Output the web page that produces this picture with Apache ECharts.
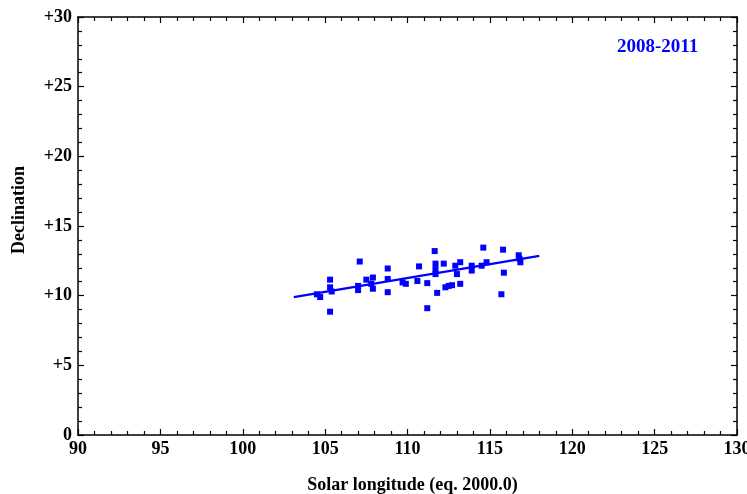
<!DOCTYPE html>
<html><head><meta charset="utf-8">
<script src="https://cdn.jsdelivr.net/npm/echarts@6/dist/echarts.min.js"></script>
<style>html,body{margin:0;padding:0;background:#fff}#c{width:747px;height:494px}</style>
</head><body><div id="c"></div>
<script>
var xTicks = [90, 95, 100, 105, 110, 115, 120, 125, 130];
var yTicks = [0, 5, 10, 15, 20, 25, 30];
var obsLongitude = [104.5, 104.7, 105.3, 105.3, 105.3, 105.4, 107.1, 107.0, 107.0, 107.5, 107.8, 107.9, 107.9, 108.8, 108.8, 108.8, 109.7, 109.9, 110.6, 110.7, 111.2, 111.2, 111.65, 111.7, 111.7, 111.7, 111.8, 112.2, 112.3, 112.5, 112.7, 112.9, 113.0, 113.2, 113.2, 113.9, 113.9, 114.5, 114.6, 114.8, 115.8, 115.85, 115.7, 116.75, 116.8, 116.85];
var obsDeclination = [10.1, 9.9, 8.85, 11.15, 10.6, 10.3, 12.45, 10.7, 10.4, 11.15, 10.85, 11.3, 10.5, 11.95, 10.25, 11.2, 10.95, 10.85, 11.05, 12.1, 10.9, 9.1, 13.2, 12.3, 11.9, 11.55, 10.2, 12.3, 10.6, 10.7, 10.75, 12.15, 11.55, 12.4, 10.85, 11.8, 12.15, 12.15, 13.45, 12.4, 13.3, 11.65, 10.1, 12.9, 12.65, 12.4];
var fitLongitude = [103.1, 118.0];
var fitDeclination = [9.9, 12.85];

var serif = '"Liberation Serif","DejaVu Serif",serif';
var obs = obsLongitude.map(function (x, i) { return [x, obsDeclination[i]]; });
var fit = fitLongitude.map(function (x, i) { return [x, fitDeclination[i]]; });

function tickCfg() {
  return {
    axisLine: { show: true, onZero: false, lineStyle: { color: '#000', width: 1.5 } },
    axisTick: { show: true, inside: true, length: 6, lineStyle: { color: '#000', width: 1.2 } },
    minorTick: { show: true, splitNumber: 5, length: 4, lineStyle: { color: '#000', width: 1.2 } },
    splitLine: { show: false }
  };
}
var xMain = Object.assign({
  type: 'value', min: 90, max: 130, interval: 5, position: 'bottom',
  name: 'Solar longitude (eq. 2000.0)', nameLocation: 'middle', nameGap: 41,
  nameTextStyle: { fontFamily: serif, fontSize: 18, fontWeight: 'bold', color: '#000', padding: [0, 0, 0, 10] },
  axisLabel: { fontFamily: serif, fontSize: 18, fontWeight: 'bold', color: '#000', margin: 5 }
}, tickCfg());
var xTop = Object.assign({
  type: 'value', min: 90, max: 130, interval: 5, position: 'top',
  axisLabel: { show: false }
}, tickCfg());
var yMain = Object.assign({
  type: 'value', min: 0, max: 30, interval: 5, position: 'left',
  name: 'Declination', nameLocation: 'middle', nameGap: 50,
  nameTextStyle: { fontFamily: serif, fontSize: 18, fontWeight: 'bold', color: '#000', padding: [0, 0, 0, 32] },
  axisLabel: { fontFamily: serif, fontSize: 18, fontWeight: 'bold', color: '#000', margin: 6,
    formatter: function (v) { return v === 0 ? '0' : '+' + v; } }
}, tickCfg());
var yRight = Object.assign({
  type: 'value', min: 0, max: 30, interval: 5, position: 'right',
  axisLabel: { show: false }
}, tickCfg());

var chart = echarts.init(document.getElementById('c'), null, { renderer: 'canvas' });
chart.setOption({
  animation: false,
  backgroundColor: '#fff',
  grid: { left: 78, right: 10, top: 17, bottom: 59, containLabel: false, outerBoundsMode: 'none' },
  xAxis: [xMain, xTop],
  yAxis: [yMain, yRight],
  graphic: [{
    type: 'text', left: 617, top: 38,
    style: { text: '2008-2011', fontFamily: serif, fontSize: 19, fontWeight: 'bold', fill: '#0000ff' }
  }],
  series: [
    { type: 'line', data: fit, symbol: 'none', lineStyle: { color: '#0000ff', width: 2.2 }, xAxisIndex: 0, yAxisIndex: 0 },
    { type: 'scatter', data: obs, symbol: 'rect', symbolSize: 6, itemStyle: { color: '#0000ff', opacity: 1 }, xAxisIndex: 0, yAxisIndex: 0 }
  ]
});
</script>
</body></html>
